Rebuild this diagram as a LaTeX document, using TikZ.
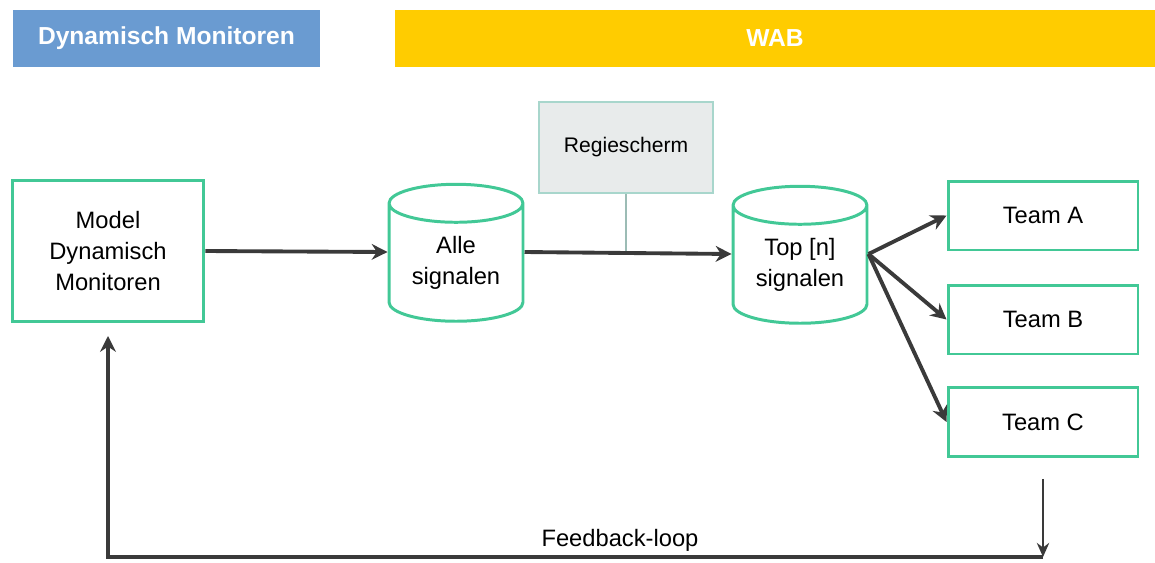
\documentclass[tikz,border=0pt]{standalone}
\usepackage{fontspec}
\setmainfont{Liberation Sans}
\usetikzlibrary{shapes.geometric,arrows.meta}
\definecolor{dmblue}{RGB}{106,155,209}
\definecolor{wabyellow}{RGB}{255,204,0}
\definecolor{mint}{RGB}{66,200,150}
\definecolor{regiefill}{RGB}{232,235,235}
\definecolor{regieline}{RGB}{168,214,204}
\definecolor{arrowgrey}{RGB}{58,58,58}
\begin{document}
\begin{tikzpicture}[x=0.02cm, y=-0.02cm,
    every node/.style={font=\fontsize{13.5}{17.5}\selectfont, align=center},
    header/.style={minimum height=1.14cm, inner sep=0pt, text=white, font=\fontsize{14}{17}\selectfont\bfseries},
    box/.style={draw=mint, line width=1.7pt, fill=white, inner sep=0pt},
    store/.style={cylinder, shape border rotate=90, aspect=0.43, draw=mint, line width=1.7pt,
        minimum width=2.68cm, minimum height=2.74cm, inner sep=0pt},
    flow/.style={draw=arrowgrey, line width=2.2pt, -{Stealth[length=9pt, width=9pt]}}]
\useasboundingbox (0,0) rectangle (1155,562);
% headers
\node[header, fill=dmblue, minimum width=6.14cm] (hdm) at (166.5,38.5) {Dynamisch Monitoren};
\node[header, fill=wabyellow, minimum width=15.2cm] (hwab) at (775,38.5) {WAB};
% nodes
\node[box, minimum width=3.84cm, minimum height=2.82cm] (model) at (108,251) {Model\\Dynamisch\\Monitoren};
\node[store] (alle) at (456,263) {Alle\\signalen};
\node[store] (top) at (800,265) {Top [n]\\signalen};
\node[draw=regieline, line width=1.2pt, fill=regiefill, minimum width=3.48cm, minimum height=1.82cm,
    font=\fontsize{12}{14}\selectfont] (regie) at (626,147.5) {Regiescherm};
\node[box, minimum width=3.8cm, minimum height=1.38cm] (teama) at (1043,215.5) {Team A};
\node[box, minimum width=3.8cm, minimum height=1.38cm] (teamb) at (1043,319.5) {Team B};
\node[box, minimum width=3.8cm, minimum height=1.38cm] (teamc) at (1043,422) {Team C};
% connectors
\coordinate (allein) at ([yshift=0.22cm]alle.west);
\coordinate (alleout) at ([yshift=0.22cm]alle.east);
\coordinate (topin) at ([yshift=0.22cm]top.west);
\coordinate (topout) at ([yshift=0.22cm]top.east);
\draw[regieline!70!gray, line width=1pt] (regie.south) -- (regie.south |- alleout);
\draw[flow] (model.east) -- (allein);
\draw[flow] (alleout) -- (topin);
\draw[flow] (topout) -- (teama.west);
\draw[flow] (topout) -- (teamb.west);
\draw[flow] (topout) -- (teamc.west);
% feedback
\coordinate (fbcorner) at (1043,557);
\draw[draw=arrowgrey, line width=1.3pt, -{Stealth[length=8pt, width=7pt]}] ([yshift=-0.42cm]teamc.south) -- (fbcorner);
\draw[flow] (fbcorner) -| ([yshift=-0.26cm]model.south);
\node (fblabel) at (620,540) {Feedback-loop};
\end{tikzpicture}
\end{document}
